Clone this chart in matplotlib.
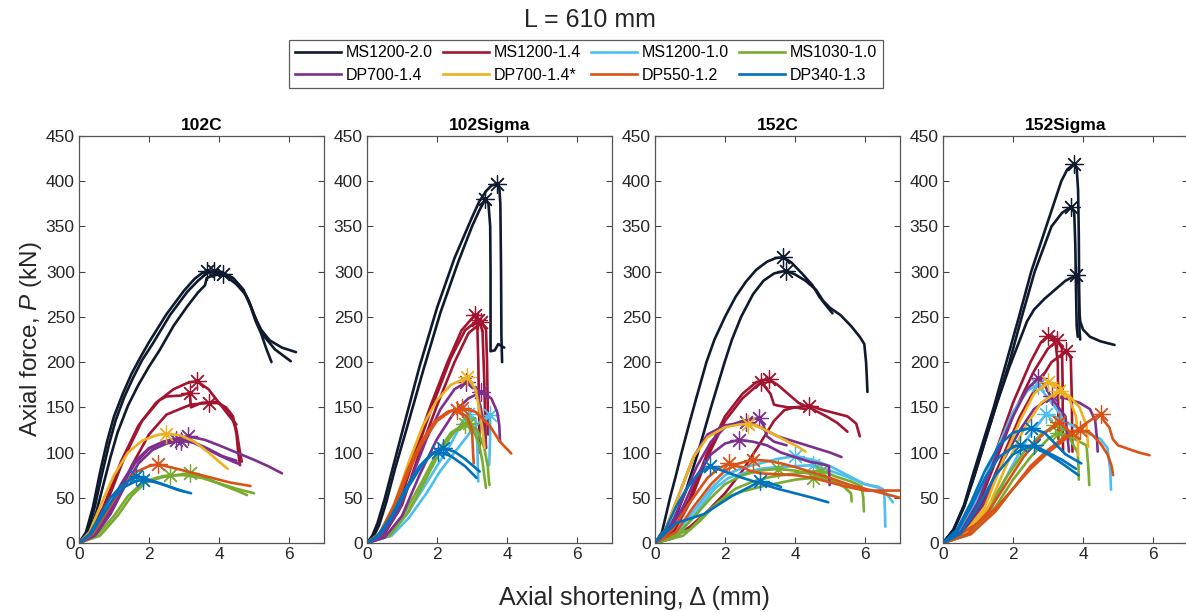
import numpy as np
import matplotlib
matplotlib.use("Agg")
import matplotlib.pyplot as plt

plt.rcParams['font.family'] = ['Liberation Sans', 'DejaVu Sans']
plt.rcParams['mathtext.fontset'] = 'custom'
plt.rcParams['mathtext.it'] = 'Liberation Sans:italic'
plt.rcParams['mathtext.rm'] = 'Liberation Sans'

series = ['MS1200-2.0', 'MS1200-1.4', 'MS1200-1.0', 'MS1030-1.0',
          'DP700-1.4', 'DP700-1.4*', 'DP550-1.2', 'DP340-1.3']
colors = ['#0f1a2e', '#a2142f', '#4dbeee', '#77ac30',
          '#7e2f8e', '#edb120', '#d95319', '#0072bd']
panels = ['102C', '102Sigma', '152C', '152Sigma']

# load-shortening curves, (shortening mm, force kN) pairs per specimen
c102 = {
    'MS1200-2.0': [
        [(0, 0), (0.2, 12), (0.4, 40), (0.6, 78), (0.8, 112), (1.0, 140), (1.25, 165), (1.5, 187), (1.75, 205),
         (2.0, 222), (2.5, 253), (3.0, 279), (3.3, 292), (3.5, 298), (3.65, 301), (3.9, 299), (4.2, 295),
         (4.5, 286), (4.75, 275), (4.9, 262), (5.05, 245), (5.2, 232), (5.35, 215), (5.5, 200)],
        [(0, 0), (0.25, 12), (0.45, 40), (0.65, 75), (0.85, 108), (1.05, 136), (1.3, 162), (1.55, 183),
         (1.8, 202), (2.1, 220), (2.6, 252), (3.1, 278), (3.4, 290), (3.65, 298), (3.87, 301), (4.1, 299),
         (4.4, 293), (4.65, 282), (4.85, 268), (5.0, 252), (5.2, 236), (5.45, 224), (5.8, 216), (6.2, 211)],
        [(0, 0), (0.3, 12), (0.5, 35), (0.7, 65), (0.9, 95), (1.1, 122), (1.4, 152), (1.7, 175), (2.0, 195),
         (2.3, 213), (2.7, 240), (3.1, 262), (3.4, 277), (3.6, 285), (3.65, 293), (3.85, 296), (4.1, 297),
         (4.4, 293), (4.7, 280), (4.9, 263), (5.1, 243), (5.3, 228), (5.6, 214), (6.05, 201)],
    ],
    'MS1200-1.4': [
        [(0, 0), (0.3, 10), (0.7, 40), (1.2, 90), (1.7, 130), (2.2, 155), (2.7, 170), (3.1, 177), (3.37, 179),
         (3.7, 170), (4.0, 155), (4.3, 140), (4.5, 131)],
        [(0, 0), (0.4, 12), (0.8, 45), (1.3, 95), (1.8, 135), (2.3, 158), (2.5, 162), (2.9, 163), (3.16, 166),
         (3.2, 150), (3.5, 155), (3.9, 156), (4.2, 150), (4.4, 140), (4.5, 120), (4.55, 100), (4.6, 86)],
        [(0, 0), (0.5, 10), (1.0, 40), (1.5, 85), (2.0, 120), (2.5, 142), (3.0, 150), (3.2, 153), (3.71, 155),
         (4.0, 155), (4.3, 145), (4.5, 125), (4.6, 100), (4.65, 90)],
    ],
    'MS1030-1.0': [
        [(0, 0), (0.5, 8), (1.0, 30), (1.4, 52), (1.8, 66), (2.2, 72), (2.59, 75), (3.0, 75), (3.5, 72),
         (4.0, 66), (4.5, 60), (5.0, 55)],
        [(0, 0), (0.6, 8), (1.1, 30), (1.5, 52), (1.9, 67), (2.4, 73), (3.16, 77), (3.6, 72), (4.1, 64),
         (4.5, 58), (4.8, 53)],
    ],
    'DP700-1.4': [
        [(0, 0), (0.4, 10), (0.8, 35), (1.2, 65), (1.6, 90), (2.0, 105), (2.4, 112), (2.78, 114), (3.2, 112),
         (3.6, 105), (4.0, 97), (4.4, 90), (4.6, 87)],
        [(0, 0), (0.4, 8), (0.8, 30), (1.2, 62), (1.6, 88), (2.0, 104), (2.5, 113), (3.11, 118), (3.6, 114),
         (4.0, 108), (4.5, 100), (5.0, 92), (5.4, 85), (5.8, 77)],
        [(0, 0), (0.45, 8), (0.9, 32), (1.3, 62), (1.7, 88), (2.1, 103), (2.5, 110), (2.9, 113), (3.3, 111),
         (3.7, 104), (4.1, 96), (4.5, 91)],
    ],
    'DP700-1.4*': [
        [(0, 0), (0.3, 12), (0.6, 40), (1.0, 75), (1.4, 100), (1.8, 113), (2.2, 119), (2.49, 121), (2.9, 119),
         (3.3, 112), (3.7, 100), (4.0, 90), (4.25, 82)],
    ],
    'DP550-1.2': [
        [(0, 0), (0.4, 10), (0.8, 35), (1.2, 60), (1.6, 78), (2.0, 85), (2.26, 87), (2.7, 83), (3.2, 78),
         (3.8, 72), (4.3, 67), (4.9, 63)],
    ],
    'DP340-1.3': [
        [(0, 0), (0.3, 10), (0.6, 30), (0.9, 50), (1.2, 63), (1.5, 71), (1.64, 74), (2.0, 70), (2.4, 65),
         (2.8, 59), (3.2, 55)],
        [(0, 0), (0.35, 10), (0.7, 32), (1.0, 50), (1.3, 62), (1.6, 68), (1.83, 70), (2.2, 67), (2.6, 62),
         (3.0, 57)],
    ],
}

c102sigma = {
    'MS1200-2.0': [
        [(0, 0), (0.15, 8), (0.3, 22), (0.5, 48), (0.75, 85), (1.0, 122), (1.5, 195), (2.0, 260), (2.5, 315),
         (3.0, 360), (3.2, 377), (3.4, 389), (3.55, 395), (3.7, 397), (3.78, 393), (3.81, 375), (3.83, 300),
         (3.84, 230), (3.86, 200)],
        [(0, 0), (0.2, 8), (0.35, 20), (0.55, 45), (0.8, 82), (1.1, 122), (1.6, 190), (2.1, 255), (2.6, 310),
         (3.0, 350), (3.2, 367), (3.38, 380), (3.47, 375), (3.52, 350), (3.53, 300), (3.53, 212), (3.65, 213),
         (3.75, 220), (3.92, 216)],
    ],
    'MS1200-1.4': [
        [(0, 0), (0.4, 10), (0.8, 40), (1.3, 95), (1.8, 150), (2.3, 200), (2.7, 235), (3.08, 252), (3.15, 243),
         (3.18, 200), (3.2, 150), (3.22, 100)],
        [(0, 0), (0.45, 10), (0.9, 42), (1.4, 100), (1.9, 155), (2.4, 205), (2.8, 235), (3.18, 247), (3.3, 235),
         (3.35, 180), (3.38, 130), (3.4, 105)],
        [(0, 0), (0.5, 10), (1.0, 42), (1.5, 100), (2.0, 152), (2.5, 200), (2.9, 232), (3.27, 244), (3.4, 236),
         (3.43, 200), (3.45, 150), (3.46, 120)],
    ],
    'MS1200-1.0': [
        [(0, 0), (0.6, 8), (1.1, 30), (1.6, 60), (2.0, 85), (2.4, 110), (2.7, 132), (2.89, 143), (3.1, 137),
         (3.15, 110), (3.17, 80), (3.18, 68)],
        [(0, 0), (0.7, 8), (1.2, 28), (1.7, 55), (2.1, 80), (2.5, 100), (2.9, 120), (3.2, 133), (3.51, 142),
         (3.52, 120), (3.5, 95), (3.49, 86)],
    ],
    'MS1030-1.0': [
        [(0, 0), (0.6, 8), (1.1, 35), (1.6, 70), (2.0, 100), (2.4, 122), (2.8, 132), (3.0, 128), (3.2, 110),
         (3.3, 90), (3.35, 75), (3.4, 61)],
        [(0, 0), (0.65, 8), (1.2, 35), (1.7, 72), (2.1, 102), (2.5, 123), (2.9, 133), (3.15, 125), (3.35, 105),
         (3.45, 85), (3.48, 70), (3.5, 64)],
    ],
    'DP700-1.4': [
        [(0, 0), (0.45, 8), (0.9, 35), (1.3, 75), (1.7, 115), (2.1, 148), (2.5, 170), (2.84, 178), (3.1, 170),
         (3.25, 150), (3.35, 125), (3.4, 105)],
        [(0, 0), (0.5, 6), (1.0, 30), (1.5, 75), (2.0, 115), (2.5, 145), (2.9, 160), (3.27, 167), (3.55, 160),
         (3.72, 145), (3.78, 130), (3.8, 112)],
    ],
    'DP700-1.4*': [
        [(0, 0), (0.4, 12), (0.8, 45), (1.2, 90), (1.6, 130), (2.0, 158), (2.4, 175), (2.87, 183), (3.1, 170),
         (3.2, 150), (3.3, 125), (3.36, 105)],
    ],
    'DP550-1.2': [
        [(0, 0), (0.4, 10), (0.8, 40), (1.2, 80), (1.6, 112), (2.0, 135), (2.4, 146), (2.7, 149), (3.1, 145),
         (3.5, 130), (3.8, 112), (4.12, 99)],
        [(0, 0), (0.35, 10), (0.75, 40), (1.15, 80), (1.55, 112), (1.95, 135), (2.3, 145), (2.56, 147),
         (2.85, 140), (3.0, 125), (3.03, 100), (3.05, 88)],
    ],
    'DP340-1.3': [
        [(0, 0), (0.3, 8), (0.7, 30), (1.1, 60), (1.5, 85), (1.8, 97), (2.04, 101), (2.4, 96), (2.8, 85),
         (3.13, 72)],
        [(0, 0), (0.35, 8), (0.75, 30), (1.15, 60), (1.55, 85), (1.9, 100), (2.18, 105), (2.5, 101), (2.8, 93),
         (3.22, 79)],
    ],
}

c152 = {
    'MS1200-2.0': [
        [(0, 0), (0.2, 12), (0.43, 50), (0.6, 75), (0.76, 100), (1.0, 135), (1.2, 163), (1.47, 200), (1.7, 225),
         (2.0, 250), (2.3, 272), (2.6, 289), (2.89, 302), (3.2, 311), (3.45, 315), (3.67, 316), (3.9, 310),
         (4.2, 298), (4.5, 285), (4.7, 272), (4.9, 262), (5.07, 254)],
        [(0, 0), (0.3, 10), (0.6, 30), (0.9, 60), (1.23, 100), (1.6, 150), (1.99, 200), (2.2, 225), (2.46, 250),
         (2.8, 275), (3.1, 290), (3.4, 298), (3.74, 301), (4.0, 297), (4.3, 290), (4.6, 280), (4.8, 268),
         (5.0, 260), (5.3, 252), (5.6, 240), (5.85, 228), (5.98, 220), (6.03, 200), (6.05, 185), (6.07, 167)],
    ],
    'MS1200-1.4': [
        [(0, 0), (0.5, 12), (1.0, 50), (1.5, 100), (2.0, 140), (2.5, 165), (2.9, 178), (3.25, 181), (3.5, 175),
         (3.8, 165), (4.1, 155), (4.5, 148), (4.9, 140), (5.2, 133), (5.5, 123)],
        [(0, 0), (0.5, 10), (1.0, 45), (1.5, 95), (2.0, 135), (2.5, 160), (3.03, 178), (3.3, 165), (3.4, 153),
         (3.5, 152), (3.8, 150), (4.0, 150), (4.3, 148)],
        [(0, 0), (0.5, 5), (1.0, 18), (1.5, 35), (2.0, 55), (2.5, 80), (3.0, 110), (3.4, 135), (3.7, 147),
         (4.0, 150), (4.41, 152), (4.8, 147), (5.2, 143), (5.5, 140), (5.75, 132), (5.85, 118)],
    ],
    'MS1200-1.0': [
        [(0, 0), (0.6, 10), (1.1, 35), (1.6, 60), (2.0, 75), (2.5, 83), (3.0, 88), (3.5, 93), (4.0, 96),
         (4.5, 92), (5.0, 85), (5.5, 75), (6.0, 65), (6.5, 60), (6.8, 45)],
        [(0, 0), (0.7, 10), (1.2, 35), (1.7, 60), (2.1, 72), (2.6, 78), (3.0, 82), (3.5, 84), (4.0, 85),
         (4.5, 86), (5.0, 80), (5.5, 73), (6.0, 65), (6.4, 62), (6.55, 55), (6.57, 35), (6.58, 18)],
    ],
    'MS1030-1.0': [
        [(0, 0), (0.6, 8), (1.1, 28), (1.6, 50), (2.0, 65), (2.5, 75), (3.0, 80), (3.5, 82), (4.0, 80),
         (4.5, 76), (5.0, 70), (5.4, 62), (5.6, 55), (5.62, 46)],
        [(0, 0), (0.8, 8), (1.3, 25), (1.8, 45), (2.3, 60), (2.8, 68), (3.3, 73), (3.8, 76), (4.3, 78),
         (4.74, 80), (5.2, 73), (5.6, 68), (5.9, 63), (5.95, 50), (5.97, 35)],
        [(0, 0), (1.0, 15), (1.5, 35), (2.0, 50), (2.5, 57), (3.0, 62), (3.5, 66), (4.0, 70), (4.5, 72),
         (5.0, 70), (5.5, 65)],
    ],
    'DP700-1.4': [
        [(0, 0), (0.4, 15), (0.8, 50), (1.2, 85), (1.6, 112), (2.0, 128), (2.5, 135), (2.97, 138), (3.1, 130),
         (3.2, 118), (3.4, 112), (3.76, 108)],
        [(0, 0), (0.4, 12), (0.8, 40), (1.2, 75), (1.6, 98), (2.0, 110), (2.4, 114), (2.8, 112), (3.2, 108),
         (3.6, 100), (4.0, 95), (4.4, 90), (4.8, 87), (4.97, 85), (4.98, 75), (4.99, 64)],
        [(0, 0), (0.3, 15), (0.7, 55), (1.1, 95), (1.5, 120), (2.0, 130), (2.6, 134), (3.0, 128), (3.5, 118),
         (4.0, 112), (4.5, 106), (5.0, 100), (5.33, 95)],
    ],
    'DP700-1.4*': [
        [(0, 0), (0.3, 15), (0.7, 55), (1.1, 95), (1.5, 117), (2.0, 128), (2.4, 131), (2.67, 132), (3.0, 128),
         (3.4, 120), (3.8, 112), (4.1, 106), (4.3, 101)],
    ],
    'DP550-1.2': [
        [(0, 0), (0.5, 15), (1.0, 45), (1.5, 72), (1.8, 82), (2.11, 88), (2.3, 85), (2.5, 84), (2.7, 80),
         (3.0, 77), (3.5, 76), (4.0, 75), (4.5, 72), (5.0, 67), (5.5, 62), (6.0, 58), (6.5, 58), (7.0, 58)],
        [(0, 0), (0.6, 12), (1.1, 40), (1.6, 65), (2.0, 80), (2.4, 88), (2.8, 92), (3.2, 91), (3.6, 88),
         (4.0, 84), (4.5, 78), (5.0, 72), (5.5, 65), (6.0, 60), (6.5, 55), (7.0, 50)],
    ],
    'DP340-1.3': [
        [(0, 0), (0.3, 15), (0.6, 40), (0.9, 60), (1.2, 75), (1.57, 85), (2.0, 79), (2.5, 72), (3.0, 66),
         (3.5, 60), (4.0, 55), (4.5, 50), (4.95, 45)],
        [(0, 0), (0.6, 22), (1.0, 27), (1.4, 32), (1.8, 42), (2.2, 52), (2.6, 60), (3.0, 68), (3.3, 66),
         (3.6, 62)],
    ],
}

c152sigma = {
    'MS1200-2.0': [
        [(0, 0), (0.3, 15), (0.6, 42), (0.85, 75), (1.05, 100), (1.45, 150), (1.81, 200), (2.17, 250), (2.52, 300),
         (2.95, 350), (3.38, 400), (3.55, 413), (3.74, 419), (3.82, 414), (3.86, 390), (3.88, 340), (3.89, 280),
         (3.9, 235), (3.92, 225)],
        [(0, 0), (0.3, 14), (0.6, 40), (0.9, 75), (1.1, 100), (1.5, 150), (1.9, 200), (2.25, 250), (2.62, 300),
         (3.1, 350), (3.4, 365), (3.67, 372), (3.75, 365), (3.78, 330), (3.8, 280), (3.82, 240), (3.85, 228)],
        [(0, 0), (0.3, 14), (0.6, 40), (0.9, 75), (1.1, 100), (1.5, 150), (1.9, 195), (2.2, 225), (2.4, 245),
         (2.6, 258), (2.9, 270), (3.2, 280), (3.5, 290), (3.81, 296), (3.87, 288), (3.89, 260), (3.92, 245),
         (4.0, 236), (4.2, 228), (4.5, 223), (4.9, 219)],
    ],
    'MS1200-1.4': [
        [(0, 0), (0.5, 15), (1.0, 50), (1.5, 100), (2.0, 155), (2.5, 200), (2.8, 222), (3.0, 229), (3.2, 225),
         (3.28, 200), (3.29, 150), (3.3, 115)],
        [(0, 0), (0.55, 12), (1.1, 50), (1.6, 100), (2.1, 150), (2.6, 190), (3.0, 215), (3.27, 224), (3.4, 215),
         (3.42, 170), (3.42, 130), (3.43, 101)],
        [(0, 0), (0.6, 12), (1.2, 50), (1.7, 95), (2.2, 140), (2.7, 175), (3.1, 200), (3.52, 212), (3.65, 205),
         (3.68, 160), (3.69, 120), (3.7, 101)],
    ],
    'MS1200-1.0': [
        [(0, 0), (0.5, 15), (1.0, 50), (1.5, 100), (2.0, 145), (2.4, 168), (2.7, 175), (2.9, 165), (3.1, 155),
         (3.3, 145), (3.5, 132), (3.6, 115)],
        [(0, 0), (0.8, 10), (1.4, 40), (1.9, 80), (2.4, 115), (2.95, 143), (3.3, 138), (3.7, 130), (4.1, 122),
         (4.5, 115), (4.7, 105), (4.78, 80), (4.8, 59)],
    ],
    'MS1030-1.0': [
        [(0, 0), (0.7, 10), (1.3, 40), (1.8, 72), (2.3, 100), (2.8, 120), (3.2, 130), (3.5, 125), (3.7, 110),
         (3.85, 100), (3.87, 85), (3.88, 70)],
        [(0, 0), (0.8, 10), (1.5, 40), (2.0, 70), (2.5, 95), (3.0, 115), (3.3, 122), (3.6, 118), (3.9, 112),
         (4.1, 108), (4.15, 85), (4.18, 64)],
    ],
    'DP700-1.4': [
        [(0, 0), (0.5, 12), (1.0, 45), (1.5, 95), (2.0, 140), (2.4, 170), (2.71, 182), (2.9, 175), (3.1, 160),
         (3.3, 150), (3.5, 140), (3.55, 120), (3.6, 101)],
        [(0, 0), (0.6, 10), (1.2, 45), (1.7, 90), (2.2, 125), (2.6, 148), (3.1, 162), (3.5, 160), (3.9, 155),
         (4.2, 148), (4.35, 135), (4.4, 115), (4.42, 101)],
    ],
    'DP700-1.4*': [
        [(0, 0), (0.6, 10), (1.2, 40), (1.7, 90), (2.2, 135), (2.6, 165), (3.0, 178), (3.3, 174), (3.6, 160),
         (3.8, 140), (3.85, 120), (3.86, 97)],
        [(0, 0), (0.7, 10), (1.3, 40), (1.8, 85), (2.3, 125), (2.8, 155), (3.3, 168), (3.6, 163), (3.9, 150),
         (4.1, 130), (4.13, 115), (4.15, 106)],
    ],
    'DP550-1.2': [
        [(0, 0), (0.5, 10), (1.0, 22), (1.5, 38), (2.0, 60), (2.5, 82), (3.0, 100), (3.5, 115), (4.0, 130),
         (4.3, 138), (4.52, 143), (4.6, 135), (4.75, 128), (4.85, 115), (5.0, 108), (5.3, 104), (5.6, 100),
         (5.9, 97)],
        [(0, 0), (0.7, 10), (1.3, 35), (1.8, 65), (2.3, 95), (2.8, 118), (3.3, 134), (3.5, 128), (3.7, 120),
         (3.9, 115)],
        [(0, 0), (0.8, 10), (1.5, 35), (2.0, 60), (2.5, 85), (3.0, 103), (3.5, 118), (3.9, 125), (4.2, 122),
         (4.5, 110), (4.7, 98), (4.82, 85), (4.86, 75)],
    ],
    'DP340-1.3': [
        [(0, 0), (0.4, 15), (0.8, 45), (1.2, 80), (1.6, 108), (2.0, 122), (2.5, 127), (2.9, 122), (3.2, 110),
         (3.5, 98), (3.95, 88)],
        [(0, 0), (0.4, 12), (0.8, 40), (1.2, 72), (1.6, 95), (2.0, 106), (2.2, 108), (2.6, 106), (3.0, 98),
         (3.4, 88), (3.87, 75)],
        [(0, 0), (0.5, 10), (1.0, 40), (1.5, 75), (2.0, 98), (2.3, 104), (2.6, 108), (3.0, 100), (3.4, 92),
         (3.8, 82)],
    ],
}

panel_data = [c102, c102sigma, c152, c152sigma]

fig = plt.figure(figsize=(11.86, 6.12), dpi=100)
W, H = 1186, 612
lefts = [79, 367, 655, 943]
ax_w, ax_top, ax_bot = 245, 136, 543

axes = []
for i, name in enumerate(panels):
    ax = fig.add_axes([lefts[i] / W, 1 - ax_bot / H, ax_w / W, (ax_bot - ax_top) / H])
    axes.append(ax)
    for s, col in zip(series, colors):
        for curve in panel_data[i].get(s, []):
            pts = np.array(curve, dtype=float)
            ax.plot(pts[:, 0], pts[:, 1], color=col, lw=1.9, solid_joinstyle='round', solid_capstyle='round')
            # peak load marker
            k = np.argmax(pts[:, 1])
            ax.plot(pts[k, 0], pts[k, 1], marker=(8, 2, 0), ms=13, mew=0.9, color=col, ls='none')
    ax.set_xlim(0, 7)
    ax.set_ylim(0, 450)
    ax.set_xticks([0, 2, 4, 6])
    ax.set_yticks(np.arange(0, 451, 50))
    ax.tick_params(direction='in', top=True, right=True, length=4, width=0.8,
                   labelsize=12.5, colors='#444444', labelcolor='#262626', pad=3)
    for sp in ax.spines.values():
        sp.set_color('#555555')
        sp.set_linewidth(0.9)
    ax.set_title(name, fontsize=12.5, fontweight='bold', pad=4)

axes[0].set_ylabel('Axial force, $P$ (kN)', fontsize=17.5, color='#262626', labelpad=1)
fig.text(634 / W, 1 - 598 / H, 'Axial shortening, Δ (mm)', fontsize=18, color='#262626',
         ha='center', va='center')
fig.text(590 / W, 1 - 20 / H, 'L = 610 mm', fontsize=18, color='#262626', ha='center', va='center')

# legend fills column-wise, so interleave the two rows
handles = [plt.Line2D([], [], color=c, lw=1.9) for c in colors]
order = [0, 4, 1, 5, 2, 6, 3, 7]
leg = fig.legend([handles[j] for j in order], [series[j] for j in order], ncol=4,
                 loc='center', bbox_to_anchor=(586 / W, 1 - 64 / H), fontsize=11.5,
                 handlelength=2.9, handletextpad=0.3, columnspacing=0.6, labelspacing=0.45,
                 borderpad=0.35, frameon=True, fancybox=False, edgecolor='#333333')
leg.get_frame().set_linewidth(0.9)

fig.savefig('out.png', dpi=100)
